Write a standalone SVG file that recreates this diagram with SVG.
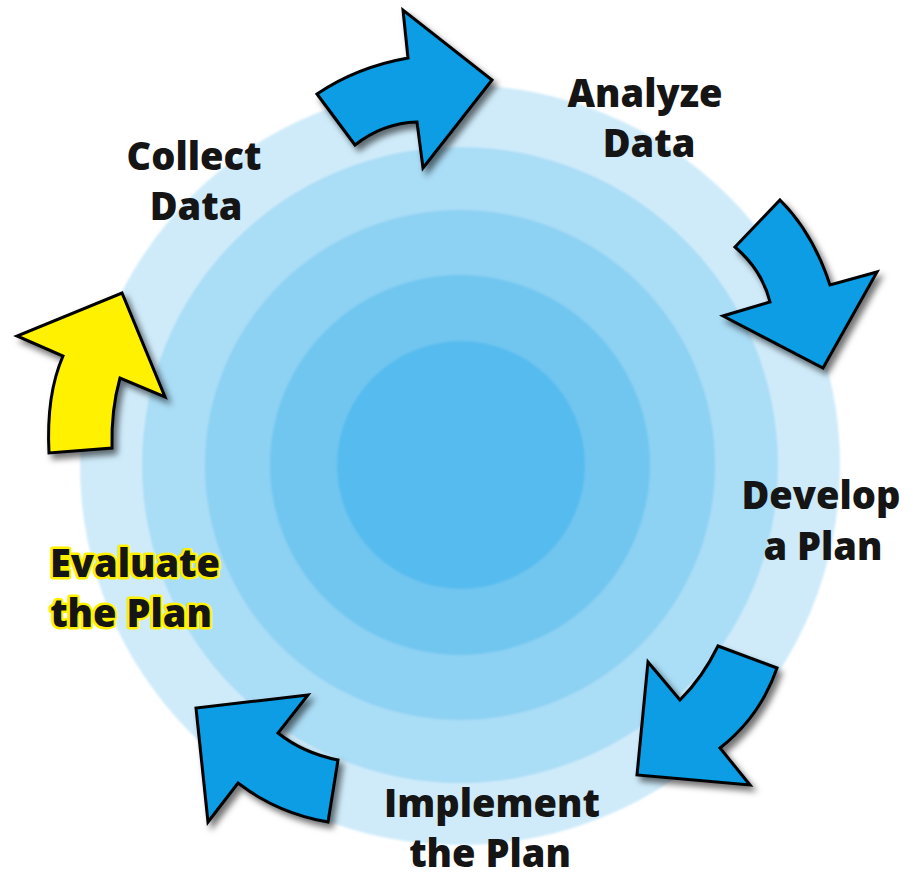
<svg xmlns="http://www.w3.org/2000/svg" width="919" height="879" viewBox="0 0 919 879">
<defs>
<filter id="shadow" x="-20%" y="-20%" width="150%" height="150%">
<feDropShadow dx="4" dy="5" stdDeviation="3" flood-color="#000" flood-opacity="0.55"/>
</filter>
<filter id="soft" x="-5%" y="-5%" width="110%" height="110%">
<feGaussianBlur stdDeviation="1.2"/>
</filter>
<style>
.arrow{stroke:#000;stroke-width:3;stroke-linejoin:miter;filter:url(#shadow)}
.blue{fill:#079DE4}
.yellow{fill:#FFF100}
.lbl{font-family:"Open Sans","Liberation Sans",sans-serif;font-weight:800;font-size:38px;fill:#151515;text-anchor:middle}
.eval{stroke:#FFF100;stroke-width:5;paint-order:stroke;stroke-linejoin:round}
</style>
</defs>
<rect width="919" height="879" fill="#fff"/>
<g id="rings" filter="url(#soft)">
<circle cx="460" cy="465" r="380" fill="#CFEBFA"/>
<circle cx="460" cy="465" r="318" fill="#AADDF6"/>
<circle cx="460" cy="465" r="255" fill="#8DD1F3"/>
<circle cx="460" cy="465" r="190" fill="#71C6F0"/>
<circle cx="461" cy="465" r="124" fill="#56BBEE"/>
</g>
<g id="connectors">
<path class="arrow blue" d="M317,94 Q357,67 408,58 L403,10 L492,80 L423,168 L417,122 Q383,123 355,145 Z"/>
<path class="arrow blue" d="M735,247 L780,200 Q813,233 830,285 L877,272 L823,368 L723,316 L770,302 Q762,270 735,247 Z"/>
<path class="arrow blue" d="M718,646 L777,668 Q760,717 720,748 L750,785 L637,775 L648,662 L680,700 Q703,677 718,646 Z"/>
<path class="arrow blue" d="M308,695 L196,708 L208,822 L238,783 Q277,813 328,822 L338,760 Q303,753 278,733 Z"/>
<path class="arrow yellow" d="M49,453 Q46,395 63,356 L17,336 L122,293 L165,397 L120,378 Q111,410 112,448 Z"/>
</g>
<g id="collect">
<text class="lbl" x="194" y="170">Collect</text>
<text class="lbl" x="196" y="220">Data</text>
</g>
<g id="analyze">
<text class="lbl" x="645" y="107">Analyze</text>
<text class="lbl" x="649" y="157">Data</text>
</g>
<g id="develop">
<text class="lbl" x="821" y="509">Develop</text>
<text class="lbl" x="823" y="560">a Plan</text>
</g>
<g id="implement">
<text class="lbl" x="492" y="817">Implement</text>
<text class="lbl" x="490" y="867">the Plan</text>
</g>
<g id="evaluate">
<text class="lbl eval" x="135" y="577">Evaluate</text>
<text class="lbl eval" x="131" y="627">the Plan</text>
</g>
</svg>
